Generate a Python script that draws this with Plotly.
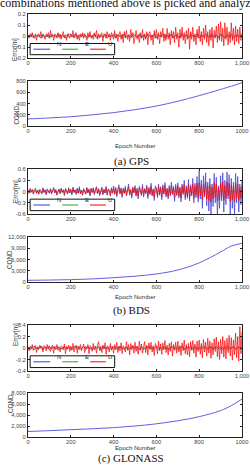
import plotly.graph_objects as go

# ---------------- data ----------------
epochs_dense = list(range(0, 1001, 5))    # 201 points
epochs_sparse = list(range(0, 1001, 10))  # 101 points
epochs_cond = [0, 100, 200, 300, 400, 500, 600, 700, 800, 900, 950, 1000]

gps_U = [0.01,-0.02,0.02,-0.01,0.03,-0.02,0.00,0.02,-0.04,0.01,
         0.02,-0.01,0.04,-0.02,0.01,0.00,-0.03,0.02,-0.01,0.03,
         -0.02,0.05,-0.01,0.01,-0.04,0.02,0.01,-0.02,0.03,-0.01,
         0.02,-0.03,0.01,0.04,-0.02,0.01,-0.04,0.02,0.00,-0.02,
         0.02,-0.01,0.05,-0.02,0.01,0.03,-0.03,0.01,-0.04,0.02,
         -0.01,0.03,-0.02,0.02,0.00,-0.04,0.03,-0.01,0.04,-0.02,
         0.01,-0.03,0.03,-0.01,0.05,-0.03,0.02,-0.02,0.01,0.03,
         -0.05,0.02,0.01,-0.02,0.04,-0.01,0.02,-0.04,0.03,0.00,
         -0.03,0.05,-0.02,0.02,-0.05,0.01,0.04,-0.03,0.02,-0.06,
         0.04,-0.02,0.05,-0.03,0.01,-0.05,0.06,-0.01,0.03,-0.07,
         0.02,0.05,-0.03,0.01,-0.06,0.03,-0.02,0.06,-0.04,0.02,
         -0.03,0.04,-0.08,0.02,0.04,-0.04,0.01,-0.08,0.05,-0.02,
         0.06,-0.03,0.03,-0.07,0.04,-0.01,0.07,-0.05,0.02,-0.04,
         0.07,-0.03,0.03,-0.08,0.05,-0.02,0.04,-0.06,0.08,-0.03,
         0.03,-0.10,0.06,-0.02,0.08,-0.04,0.03,-0.07,0.05,-0.03,
         0.07,-0.12,0.04,-0.03,0.08,-0.05,0.02,-0.08,0.06,-0.02,
         0.09,-0.05,0.04,-0.08,0.07,-0.03,0.10,-0.06,0.04,-0.09,
         0.06,-0.04,0.08,-0.11,0.05,-0.02,0.09,-0.06,0.11,-0.04,
         0.13,-0.05,0.07,-0.09,0.12,-0.03,0.08,-0.08,0.04,-0.06,
         0.12,-0.04,0.07,-0.08,0.09,-0.05,0.06,-0.07,0.08,-0.04,
         0.03]
gps_N = [0.01,-0.01,0.02,-0.02,0.00,0.01,-0.02,0.02,-0.01,0.01,
         -0.02,0.02,0.00,-0.01,0.02,-0.02,0.01,0.00,-0.02,0.02,
         0.01,-0.01,0.02,-0.02,0.01,-0.01,0.02,0.00,-0.02,0.01,
         -0.01,0.02,-0.02,0.01,0.00,-0.01,0.02,-0.02,0.01,-0.01,
         0.02,-0.02,0.01,0.00,-0.02,0.02,-0.01,0.01,-0.02,0.02,
         0.00,-0.01,0.02,-0.02,0.01,-0.02,0.02,0.00,-0.01,0.02,
         -0.02,0.01,0.00,0.02,-0.02,0.01,-0.01,0.02,-0.02,0.01,
         0.00,-0.02,0.02,-0.01,0.01,-0.02,0.02,0.00,-0.01,0.02,
         -0.02,0.01,-0.01,0.02,0.00,-0.02,0.02,-0.01,0.01,-0.02,
         0.02,0.00,-0.02,0.01,-0.01,0.02,-0.02,0.01,0.00,-0.01,
         0.01]
gps_E = [-0.01,0.01,0.00,-0.01,0.01,-0.01,0.01,0.00,-0.01,0.01,
         0.00,-0.01,0.01,0.00,-0.01,0.01,-0.01,0.00,0.01,-0.01,
         0.01,0.00,-0.01,0.01,-0.01,0.01,0.00,-0.01,0.01,0.00,
         -0.01,0.01,0.00,-0.01,0.01,-0.01,0.00,0.01,-0.01,0.01,
         0.00,-0.01,0.01,-0.01,0.01,0.00,-0.01,0.01,0.00,-0.01,
         0.01,-0.01,0.00,0.01,-0.01,0.01,0.00,-0.01,0.01,-0.01,
         0.00,0.01,-0.01,0.00,0.01,-0.01,0.01,0.00,-0.01,0.01,
         -0.01,0.00,0.01,-0.01,0.01,0.00,-0.01,0.01,-0.01,0.00,
         0.01,-0.01,0.01,0.00,-0.01,0.01,-0.01,0.00,0.01,-0.01,
         0.00,0.01,-0.01,0.01,0.00,-0.01,0.01,-0.01,0.00,0.01,
         0.00]

bds_N = [0.05,-0.04,0.08,-0.02,0.06,-0.07,0.03,0.09,-0.05,0.04,
         -0.08,0.06,0.02,-0.06,0.10,-0.03,0.05,-0.09,0.07,0.01,
         -0.05,0.08,-0.07,0.04,0.11,-0.04,0.06,-0.10,0.03,0.07,
         -0.06,0.09,-0.02,0.05,-0.11,0.08,0.02,-0.07,0.10,-0.04,
         0.06,-0.09,0.12,-0.03,0.05,-0.08,0.09,-0.05,0.13,-0.06,
         0.04,-0.10,0.08,0.02,-0.07,0.11,-0.04,0.07,-0.12,0.09,
         -0.03,0.10,-0.08,0.05,0.13,-0.06,0.08,-0.11,0.04,0.12,
         -0.09,0.06,-0.04,0.14,-0.10,0.07,0.03,-0.12,0.10,-0.05,
         0.15,-0.08,0.11,-0.14,0.06,0.18,-0.07,0.10,-0.16,0.09,
         -0.05,0.14,-0.12,0.08,0.20,-0.10,0.06,-0.18,0.12,-0.04,
         0.16,-0.13,0.09,-0.20,0.14,0.05,-0.11,0.19,-0.15,0.08,
         -0.06,0.17,-0.19,0.11,-0.08,0.22,-0.12,0.07,-0.24,0.15,
         0.10,-0.16,0.20,-0.10,0.13,-0.22,0.18,-0.07,0.24,-0.15,
         0.09,-0.20,0.16,-0.12,0.25,-0.09,0.14,-0.26,0.19,-0.11,
         0.23,-0.17,0.12,-0.28,0.20,-0.08,0.30,-0.22,0.15,-0.18,
         0.32,-0.25,0.18,-0.12,0.35,-0.30,0.22,-0.16,0.40,-0.28,
         0.55,-0.20,0.30,-0.45,0.42,-0.15,0.50,-0.38,0.25,-0.52,
         0.35,-0.65,0.20,-0.40,0.48,-0.30,0.38,-0.65,0.15,-0.45,
         0.42,-0.25,0.50,-0.55,0.30,-0.35,0.52,-0.20,0.45,-0.65,
         0.35,-0.45,0.25,-0.65,0.48,-0.30,0.40,-0.55,0.20,-0.35,
         0.30]
bds_E = [0.02,-0.02,0.01,0.03,-0.01,0.02,-0.03,0.01,0.00,-0.02,
         0.03,-0.01,0.02,-0.02,0.01,0.03,-0.03,0.02,-0.01,0.01,
         -0.02,0.03,0.00,-0.03,0.02,-0.01,0.03,-0.02,0.01,-0.03,
         0.02,0.00,-0.02,0.03,-0.01,0.02,-0.03,0.01,0.03,-0.02,
         0.01,-0.03,0.02,0.00,-0.02,0.03,-0.01,0.02,-0.03,0.01,
         0.03,-0.02,0.01,-0.03,0.02,0.00,-0.02,0.03,-0.01,0.02,
         -0.03,0.01,0.03,-0.02,0.02,-0.01,0.03,-0.03,0.01,0.00,
         -0.02,0.03,-0.01,0.02,-0.03,0.02,0.01,-0.02,0.03,-0.01,
         0.02,-0.03,0.01,0.03,-0.02,0.00,0.02,-0.03,0.01,0.02,
         -0.01,0.03,-0.02,0.01,-0.03,0.02,0.00,0.03,-0.02,0.01,
         -0.01]
bds_U = [0.03,-0.05,0.06,-0.02,0.04,-0.06,0.02,0.05,-0.04,0.03,
         -0.06,0.04,0.01,-0.05,0.07,-0.02,0.03,-0.07,0.05,0.00,
         -0.04,0.06,-0.05,0.03,0.07,-0.03,0.04,-0.08,0.02,0.05,
         -0.05,0.07,-0.01,0.04,-0.08,0.06,0.01,-0.06,0.08,-0.03,
         0.05,-0.07,0.08,-0.02,0.04,-0.06,0.07,-0.04,0.09,-0.05,
         0.03,-0.08,0.06,0.01,-0.06,0.09,-0.03,0.05,-0.09,0.07,
         -0.02,0.08,-0.06,0.04,0.10,-0.05,0.06,-0.09,0.03,0.09,
         -0.07,0.05,-0.03,0.10,-0.08,0.05,0.02,-0.09,0.08,-0.04,
         0.10,-0.06,0.08,-0.10,0.04,0.12,-0.05,0.07,-0.11,0.06,
         -0.04,0.10,-0.09,0.06,0.13,-0.07,0.04,-0.12,0.09,-0.03,
         0.11,-0.09,0.06,-0.13,0.10,0.03,-0.08,0.12,-0.10,0.05,
         -0.05,0.12,-0.13,0.08,-0.06,0.14,-0.09,0.05,-0.15,0.10,
         0.07,-0.12,0.13,-0.07,0.09,-0.15,0.12,-0.05,0.16,-0.10,
         0.06,-0.14,0.11,-0.08,0.16,-0.06,0.10,-0.17,0.13,-0.08,
         0.15,-0.12,0.08,-0.18,0.14,-0.05,0.18,-0.15,0.10,-0.12,
         0.19,-0.16,0.12,-0.08,0.20,-0.18,0.14,-0.10,0.22,-0.17,
         0.24,-0.12,0.18,-0.22,0.20,-0.09,0.25,-0.20,0.14,-0.24,
         0.18,-0.28,0.12,-0.20,0.24,-0.15,0.20,-0.26,0.09,-0.22,
         0.22,-0.14,0.26,-0.24,0.16,-0.18,0.25,-0.12,0.22,-0.26,
         0.18,-0.22,0.14,-0.27,0.23,-0.16,0.20,-0.24,0.12,-0.18,
         0.15]

glo_N = [0.02,-0.03,0.01,0.03,-0.02,0.00,0.03,-0.03,0.02,-0.01,
         0.03,-0.02,0.01,-0.03,0.02,0.00,-0.02,0.03,-0.01,0.02,
         -0.03,0.01,0.03,-0.02,0.02,-0.01,0.03,-0.03,0.01,0.00,
         -0.02,0.03,-0.01,0.02,-0.03,0.02,0.01,-0.02,0.03,-0.01,
         0.02,-0.03,0.01,0.03,-0.02,0.00,0.02,-0.03,0.01,0.02,
         -0.01,0.03,-0.02,0.01,-0.03,0.02,0.00,0.03,-0.02,0.01,
         0.03,-0.02,0.01,-0.03,0.02,0.00,-0.02,0.03,-0.01,0.02,
         -0.03,0.01,0.03,-0.02,0.02,-0.01,0.03,-0.03,0.01,0.00,
         -0.02,0.03,-0.01,0.02,-0.03,0.02,0.01,-0.02,0.03,-0.01,
         0.02,-0.03,0.01,0.03,-0.02,0.00,0.02,-0.03,0.01,0.02,
         0.00]
glo_E = [-0.02,0.02,0.00,-0.03,0.02,-0.01,0.03,-0.02,0.01,0.02,
         -0.03,0.01,0.02,-0.01,0.03,-0.02,0.00,0.02,-0.03,0.01,
         0.02,-0.02,0.01,0.03,-0.03,0.00,0.02,-0.01,0.03,-0.02,
         0.01,-0.03,0.02,0.00,-0.02,0.03,-0.01,0.01,-0.03,0.02,
         -0.01,0.03,-0.02,0.01,0.02,-0.03,0.00,0.02,-0.02,0.03,
         -0.01,0.01,-0.03,0.02,0.00,-0.02,0.03,-0.01,0.02,-0.03,
         0.01,0.02,-0.02,0.03,-0.01,0.00,-0.03,0.02,0.01,-0.02,
         0.03,-0.01,0.02,-0.03,0.00,0.02,-0.02,0.01,0.03,-0.03,
         0.01,-0.02,0.03,0.00,-0.01,0.02,-0.03,0.02,-0.01,0.03,
         -0.02,0.01,0.00,-0.03,0.02,-0.01,0.03,-0.02,0.01,-0.01,
         0.01]
glo_U = [0.02,-0.05,0.03,-0.02,0.06,-0.04,0.01,0.04,-0.08,0.02,
         -0.03,0.05,-0.01,0.03,-0.07,0.04,0.01,-0.05,0.06,-0.02,
         0.04,-0.06,0.02,0.05,-0.09,0.03,-0.01,0.06,-0.04,0.01,
         -0.07,0.04,0.02,-0.03,0.07,-0.10,0.03,-0.02,0.05,-0.06,
         0.03,-0.04,0.08,-0.07,0.01,0.05,-0.09,0.03,-0.02,0.06,
         -0.05,0.02,0.07,-0.08,0.03,-0.01,0.06,-0.10,0.04,0.01,
         -0.06,0.08,-0.03,0.03,-0.09,0.06,0.11,-0.05,0.03,-0.08,
         0.05,-0.02,0.09,-0.11,0.04,0.01,-0.07,0.08,-0.04,0.03,
         -0.09,0.06,-0.02,0.10,-0.08,0.03,-0.05,0.09,-0.10,0.04,
         0.01,-0.07,0.11,-0.04,0.06,-0.12,0.08,-0.03,0.05,-0.09,
         0.10,-0.06,0.03,-0.11,0.12,-0.04,0.07,-0.09,0.02,0.11,
         -0.08,0.05,-0.12,0.09,-0.03,0.10,-0.07,0.04,-0.13,0.08,
         0.03,-0.10,0.12,-0.05,0.07,-0.11,0.09,-0.03,0.13,-0.08,
         0.05,-0.12,0.08,-0.06,0.11,-0.14,0.06,-0.04,0.10,-0.09,
         0.12,-0.07,0.04,-0.13,0.09,-0.05,0.14,-0.10,0.06,-0.12,
         0.08,-0.15,0.11,-0.04,0.13,-0.09,0.07,-0.16,0.12,-0.06,
         0.14,-0.11,0.08,-0.17,0.15,-0.07,0.10,-0.14,0.17,-0.09,
         0.12,-0.18,0.09,-0.12,0.16,-0.06,0.19,-0.15,0.11,-0.20,
         0.15,-0.10,0.20,-0.16,0.13,-0.19,0.17,-0.08,0.22,-0.14,
         0.18,-0.21,0.14,-0.12,0.26,-0.17,0.20,-0.23,0.37,-0.10,
         0.28]

gps_cond = [125, 143, 165, 198, 238, 290, 355, 440, 540, 650, 708, 770]
bds_cond = [450, 520, 620, 820, 1150, 1550, 2150, 3200, 5100, 8000, 9600, 10300]
glo_cond = [1000, 1150, 1330, 1500, 1700, 2000, 2400, 2950, 3700, 4800, 5700, 6900]

x_ticks = [0, 200, 400, 600, 800, 1000]
x_text_comma = ["0", "200", "400", "600", "800", "1,000"]
x_text_plain = ["0", "200", "400", "600", "800", "1000"]
err_ticks = {
    "gps": ([-0.2, -0.1, 0, 0.1, 0.2], ["-0.2", "-0.1", "0", "0.1", "0.2"]),
    "bds": ([-0.6, -0.3, 0, 0.3, 0.6], ["-0.6", "-0.3", "0", "0.3", "0.6"]),
    "glo": ([-0.4, -0.2, 0, 0.2, 0.4], ["-0.4", "-0.2", "0", "0.2", "0.4"]),
}
cond_ticks = {
    "gps": ([0, 200, 400, 600, 800], ["0", "200", "400", "600", "800"]),
    "bds": ([0, 3000, 6000, 9000, 12000], ["0", "3,000", "6,000", "9,000", "12,000"]),
    "glo": ([0, 2000, 4000, 6000, 8000], ["0", "2,000", "4,000", "6,000", "8,000"]),
}
captions = ["(a) GPS", "(b) BDS", "(c) GLONASS"]
series_names = ["N", "E", "U"]

# ---------------- layout helpers ----------------
W, H = 250, 471
def py(p):
    return 1 - p / H

def sfx(i):
    return "" if i == 1 else str(i)

XL, XR = 28 / W, 242 / W
boxes = {
    "gps_err": (14, 58), "gps_cond": (81, 126),
    "bds_err": (169, 214), "bds_cond": (237, 282),
    "glo_err": (325, 371), "glo_cond": (393, 437),
}
err_title_x = {"gps": 9.5, "bds": 9.5, "glo": 9.5}
cond_title_x = {"gps": 10, "bds": 4, "glo": 5}

C_N, C_E, C_U = "#3a3ad6", "#2ca02c", "#ff0000"
C_COND = "#6060e0"
FAM = "Liberation Sans, Arial, sans-serif"
TFONT = dict(family=FAM, size=5.8, color="#444")

fig = go.Figure()
layout = dict(width=W, height=H, margin=dict(l=0, r=0, t=0, b=0, autoexpand=False),
              paper_bgcolor="white", plot_bgcolor="white", showlegend=False)
annotations, shapes = [], []

def axis_common(ticks_v, ticks_t):
    return dict(showline=True, linecolor="#222", linewidth=1, mirror="ticks",
                ticks="inside", ticklen=2, tickcolor="#222", tickwidth=1,
                showgrid=False, zeroline=False, tickfont=TFONT, automargin=False,
                tickvals=ticks_v, ticktext=ticks_t)

systems = [
    ("gps", gps_N, gps_E, gps_U, gps_cond, x_text_plain, "gps_err", "gps_cond", 154),
    ("bds", bds_N, bds_E, bds_U, bds_cond, x_text_comma, "bds_err", "bds_cond", 310),
    ("glo", glo_N, glo_E, glo_U, glo_cond, x_text_plain, "glo_err", "glo_cond", 466),
]

ax = 0
for idx, (key, sN, sE, sU, cond, cond_xtext, ebox, cbox, cap_y) in enumerate(systems):
    # error subplot
    ax += 1
    xa, ya = "x" + sfx(ax), "y" + sfx(ax)
    for name, ys, col in (("N", sN, C_N), ("E", sE, C_E), ("U", sU, C_U)):
        xs = epochs_dense if len(ys) == len(epochs_dense) else epochs_sparse
        fig.add_trace(go.Scatter(x=xs, y=ys, mode="lines", name=name,
                                 line=dict(color=col, width=0.7),
                                 xaxis=xa, yaxis=ya))
    t, b = boxes[ebox]
    yv, yt = err_ticks[key]
    layout["xaxis" + sfx(ax)] = dict(domain=[XL, XR], anchor=ya, range=[0, 1000],
                                     ticklabelstandoff=-1,
                                     **axis_common(x_ticks, x_text_comma))
    layout["yaxis" + sfx(ax)] = dict(domain=[py(b), py(t)], anchor=xa,
                                     range=[yv[0], yv[-1]], **axis_common(yv, yt))
    annotations.append(dict(text="Error[m]", x=err_title_x[key] / W, y=py((t + b) / 2),
                            xref="paper", yref="paper", showarrow=False,
                            textangle=-90, font=dict(family=FAM, size=6.3, color="#333")))
    # custom legend box inside the error axes
    xd, yd = xa + " domain", ya + " domain"
    shapes.append(dict(type="rect", xref=xd, yref=yd, x0=0.01, x1=0.405,
                       y0=0.075, y1=0.33, line=dict(color="#111", width=1),
                       fillcolor="white", layer="above"))
    for (lx0, lx1, tx), nm, col in zip(((0.025, 0.103, 0.124), (0.16, 0.234, 0.255), (0.29, 0.364, 0.385)),
                                       series_names, (C_N, C_E, C_U)):
        shapes.append(dict(type="line", xref=xd, yref=yd, x0=lx0, x1=lx1,
                           y0=0.2, y1=0.2, line=dict(color=col, width=1), layer="above"))
        annotations.append(dict(text=nm, x=tx, y=0.2, xref=xd, yref=yd,
                                showarrow=False, font=dict(family=FAM, size=6, color="#333")))

    # cond subplot
    ax += 1
    xa, ya = "x" + sfx(ax), "y" + sfx(ax)
    fig.add_trace(go.Scatter(x=epochs_cond, y=cond, mode="lines", name="COND",
                             line=dict(color=C_COND, width=1, shape="spline"),
                             xaxis=xa, yaxis=ya))
    t, b = boxes[cbox]
    yv, yt = cond_ticks[key]
    layout["xaxis" + sfx(ax)] = dict(domain=[XL, XR], anchor=ya, range=[0, 1000],
                                     ticklabelstandoff=-1,
                                     **axis_common(x_ticks, cond_xtext))
    layout["yaxis" + sfx(ax)] = dict(domain=[py(b), py(t)], anchor=xa,
                                     range=[yv[0], yv[-1]], **axis_common(yv, yt))
    annotations.append(dict(text="COND", x=cond_title_x[key] / W, y=py((t + b) / 2),
                            xref="paper", yref="paper", showarrow=False,
                            textangle=-90, font=dict(family=FAM, size=6.3, color="#333")))
    annotations.append(dict(text="Epoch Number", x=135 / W, y=py(b + 14.5),
                            xref="paper", yref="paper", showarrow=False, borderpad=0,
                            font=dict(family=FAM, size=6.1, color="#333")))
    annotations.append(dict(text=captions[idx], x=131 / W, y=py(cap_y),
                            xref="paper", yref="paper", showarrow=False, borderpad=0,
                            font=dict(family="Liberation Serif, Times New Roman, serif", size=11, color="#111")))

annotations.append(dict(text="combinations mentioned above is picked and analyz",
                        x=-2 / W, y=py(3), xref="paper", yref="paper", xanchor="left",
                        yanchor="middle", showarrow=False,
                        font=dict(family="Liberation Serif, Times New Roman, serif", size=12, color="#111")))

layout["annotations"] = annotations
layout["shapes"] = shapes
fig.update_layout(**layout)
fig.write_html("out.html")
